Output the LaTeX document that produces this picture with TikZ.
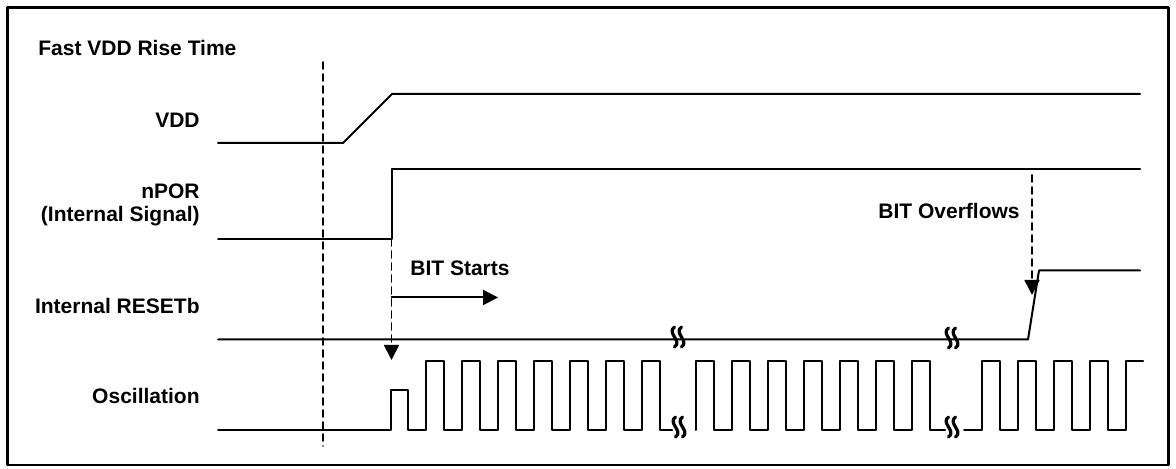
\documentclass[tikz,border=0pt]{standalone}
\usepackage{fontspec}
\setmainfont{Liberation Sans}
\usetikzlibrary{arrows.meta}
\definecolor{trace}{HTML}{000000}
\tikzset{
  lbl/.style={inner sep=0pt,text=trace,font=\bfseries\fontsize{10.5pt}{12pt}\selectfont},
  wave/.style={draw=trace,line width=1pt},
  guide/.style={draw=trace,line width=.9pt,dash pattern=on 3.5pt off 2.5pt},
  tip/.style={-{Triangle[length=7.5pt,width=7.5pt]}},
  brk/.pic={\draw[trace,line width=1.6pt]
    (-3.5,-10) .. controls (-12,-4) and (5,4) .. (-3.5,10)
    (3.5,-10) .. controls (-5,-4) and (12,4) .. (3.5,10);}
}
\begin{document}
\begin{tikzpicture}[x=0.5pt,y=-0.5pt,line cap=round,line join=round]
  \useasboundingbox (0,0) rectangle (1176,469);
  \draw[trace,line width=1.25pt] (7.5,7.5) rectangle (1168.5,465);
  \node[lbl,anchor=base west] (title) at (38,55.5) {Fast VDD Rise Time};
  \node[lbl,anchor=base east] (vdd) at (200,127.5) {VDD};
  \node[lbl,anchor=base east] (npor) at (200,198.5) {nPOR};
  \node[lbl,anchor=base east] (nporsub) at (200,221.5) {(Internal Signal)};
  \node[lbl,anchor=base east] (resetb) at (200,313.5) {Internal RESETb};
  \node[lbl,anchor=base east] (osc) at (200,403.5) {Oscillation};
  \node[lbl,anchor=base west] (bitstart) at (410,276) {BIT Starts};
  \node[lbl,anchor=base east] (bitover) at (1020,218.5) {BIT Overflows};
  \draw[guide] (322.7,62) -- (322.7,446);
  \draw[wave] (218,143) -- (343,143) -- (392,94) -- (1140,94);
  \draw[wave] (218,239) -- (391.5,239) -- (391.5,169.5) -- (1140,169.5);
  \draw[wave] (218,339.5) -- (1028,339.5) -- (1039,270.5) -- (1140,270.5);
  \draw[wave] (218,430) -- (391,430) -- (391,390) -- (408,390) -- (408,430)
    foreach \t in {426,462,...,642} {-- (\t,430) -- (\t,361) -- (\t+18,361) -- (\t+18,430)} -- (672,430);
  \draw[wave] (696,430)
    foreach \t in {696,732,...,912} {-- (\t,430) -- (\t,361) -- (\t+18,361) -- (\t+18,430)} -- (945,430);
  \draw[wave] (964,430)
    foreach \t in {982,1018,...,1090} {-- (\t,430) -- (\t,361) -- (\t+18,361) -- (\t+18,430)}
    -- (1126,430) -- (1126,361) -- (1143,361);
  \pic at (678,337) {brk};
  \pic at (952,338) {brk};
  \pic at (679,427) {brk};
  \pic at (952,427) {brk};
  \coordinate (rise) at (391.5,239);
  \coordinate (startdn) at (391.5,360);
  \coordinate (bitfrom) at (391.5,297.5);
  \coordinate (bitto) at (498,297.5);
  \coordinate (ovtop) at (1032,175);
  \coordinate (ovtip) at (1032,295);
  \draw[guide,tip] (rise) -- (startdn);
  \draw[wave,tip] (bitfrom) -- (bitto);
  \draw[guide,tip] (ovtop) -- (ovtip);
\end{tikzpicture}
\end{document}
